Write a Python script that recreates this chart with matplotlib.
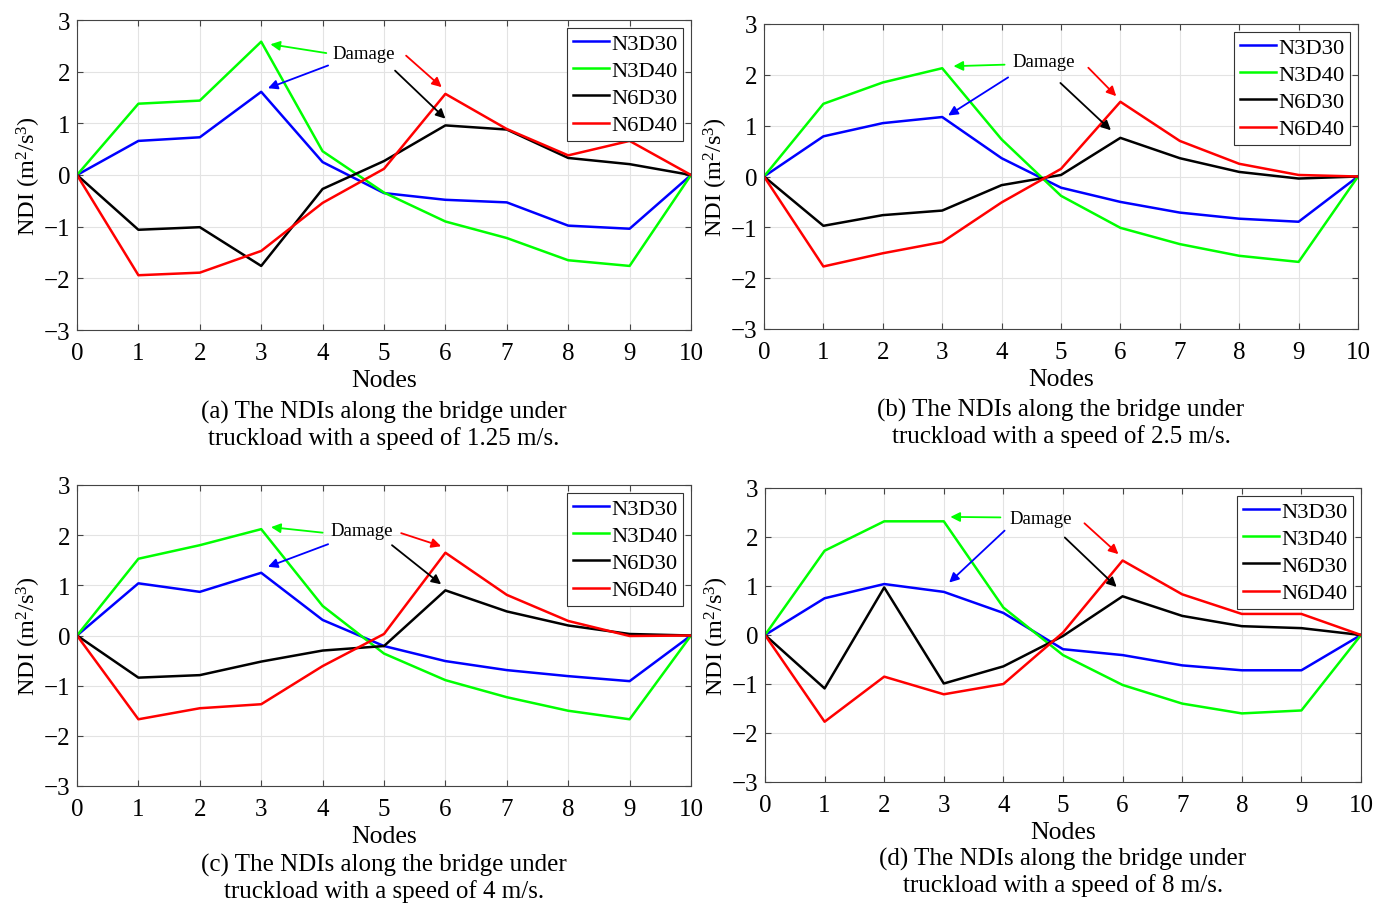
import numpy as np
import matplotlib
matplotlib.use("Agg")
import matplotlib.pyplot as plt

plt.rcParams["font.family"] = ["Liberation Serif", "DejaVu Serif"]
plt.rcParams["mathtext.fontset"] = "custom"
plt.rcParams["mathtext.rm"] = "Liberation Serif"
plt.rcParams["mathtext.it"] = "Liberation Serif:italic"

# Data
nodes = [0, 1, 2, 3, 4, 5, 6, 7, 8, 9, 10]
series_names = ["N3D30", "N3D40", "N6D30", "N6D40"]
series_colors = ["#0000ff", "#00ff00", "#000000", "#ff0000"]

# (a) 1.25 m/s
a_n3d30 = [0, 0.66, 0.73, 1.61, 0.25, -0.35, -0.48, -0.53, -0.98, -1.04, 0]
a_n3d40 = [0, 1.38, 1.44, 2.58, 0.46, -0.34, -0.90, -1.22, -1.65, -1.76, 0]
a_n6d30 = [0, -1.06, -1.01, -1.76, -0.27, 0.27, 0.96, 0.88, 0.33, 0.21, 0]
a_n6d40 = [0, -1.94, -1.89, -1.47, -0.54, 0.12, 1.57, 0.89, 0.38, 0.66, 0]

# (b) 2.5 m/s
b_n3d30 = [0, 0.79, 1.05, 1.17, 0.36, -0.22, -0.50, -0.71, -0.83, -0.89, 0]
b_n3d40 = [0, 1.43, 1.85, 2.13, 0.73, -0.38, -1.01, -1.33, -1.56, -1.68, 0]
b_n6d30 = [0, -0.97, -0.76, -0.67, -0.17, 0.03, 0.76, 0.36, 0.09, -0.04, 0]
b_n6d40 = [0, -1.77, -1.51, -1.29, -0.51, 0.15, 1.47, 0.70, 0.25, 0.03, 0]

# (c) 4 m/s
c_n3d30 = [0, 1.04, 0.87, 1.25, 0.31, -0.21, -0.51, -0.69, -0.81, -0.91, 0]
c_n3d40 = [0, 1.53, 1.80, 2.12, 0.59, -0.36, -0.89, -1.23, -1.50, -1.67, 0]
c_n6d30 = [0, -0.84, -0.79, -0.52, -0.30, -0.21, 0.90, 0.48, 0.20, 0.03, 0]
c_n6d40 = [0, -1.67, -1.45, -1.37, -0.61, 0.03, 1.65, 0.81, 0.29, -0.01, 0]

# (d) 8 m/s
d_n3d30 = [0, 0.75, 1.04, 0.88, 0.45, -0.29, -0.41, -0.62, -0.72, -0.72, 0]
d_n3d40 = [0, 1.72, 2.32, 2.32, 0.56, -0.41, -1.02, -1.40, -1.60, -1.54, 0]
d_n6d30 = [0, -1.09, 0.97, -0.99, -0.64, -0.02, 0.79, 0.39, 0.18, 0.14, 0]
d_n6d40 = [0, -1.77, -0.85, -1.21, -1.00, 0.05, 1.52, 0.83, 0.43, 0.43, 0]

captions = [
    "(a) The NDIs along the bridge under\ntruckload with a speed of 1.25 m/s.",
    "(b) The NDIs along the bridge under\ntruckload with a speed of 2.5 m/s.",
    "(c) The NDIs along the bridge under\ntruckload with a speed of 4 m/s.",
    "(d) The NDIs along the bridge under\ntruckload with a speed of 8 m/s.",
]

# "Damage" label position and arrows (tail x, tail y, head x, head y) per panel
damage_text = [(4.67, 2.36), (4.71, 2.27), (4.64, 2.10), (4.62, 2.37)]
arrow_colors = ["#00ff00", "#0000ff", "#000000", "#ff0000"]
damage_arrows = [
    [(4.06, 2.36, 3.15, 2.53), (4.09, 2.12, 3.11, 1.68), (5.18, 2.02, 6.0, 1.09), (5.36, 2.31, 5.94, 1.70)],
    [(4.05, 2.20, 3.19, 2.17), (4.11, 1.95, 3.10, 1.20), (4.99, 1.84, 5.84, 0.91), (5.46, 2.14, 5.93, 1.58)],
    [(4.00, 2.05, 3.16, 2.16), (4.09, 1.82, 3.11, 1.37), (5.13, 1.80, 5.93, 1.02), (5.28, 2.04, 5.93, 1.78)],
    [(3.95, 2.40, 3.11, 2.41), (4.02, 2.13, 3.09, 1.07), (5.03, 1.99, 5.90, 0.98), (5.36, 2.28, 5.93, 1.65)],
]

panels = [
    [a_n3d30, a_n3d40, a_n6d30, a_n6d40],
    [b_n3d30, b_n3d40, b_n6d30, b_n6d40],
    [c_n3d30, c_n3d40, c_n6d30, c_n6d40],
    [d_n3d30, d_n3d40, d_n6d30, d_n6d40],
]

W, H = 1383, 904
fig = plt.figure(figsize=(W / 100, H / 100), dpi=100)

# axes boxes in pixels: left, top, right, bottom
boxes = [(77, 21, 691, 331), (764, 25, 1358, 330), (77, 486, 691, 787), (765, 489, 1361, 783)]

for i, (l, t, r, b) in enumerate(boxes):
    ax = fig.add_axes([l / W, 1 - b / H, (r - l) / W, (b - t) / H])
    for vals, name, col in zip(panels[i], series_names, series_colors):
        ax.plot(nodes, vals, color=col, lw=1.8, label=name)
    ax.set_xlim(0, 10)
    ax.set_ylim(-3, 3)
    ax.set_xticks(range(0, 11))
    ax.set_yticks(range(-3, 4))
    ax.grid(True, color="#e3e3e3", lw=0.8)
    ax.set_axisbelow(True)
    ax.tick_params(direction="in", top=True, right=True, labelsize=18, length=4,
                   color="#444444")
    ax.tick_params(axis="x", pad=9)
    ax.tick_params(axis="y", pad=5)
    for s in ax.spines.values():
        s.set_color("#444444")
        s.set_linewidth(0.8)
    ax.set_xlabel("Nodes", fontsize=18.5, labelpad=3)
    ax.set_ylabel("NDI (m$^2$/s$^3$)", fontsize=17.5, labelpad=0)

    leg = ax.legend(loc="upper right", fontsize=16.2, handlelength=1.6, handletextpad=0.1,
                    borderpad=0.25, labelspacing=0.28, fancybox=False,
                    borderaxespad=0.35, framealpha=1)
    leg.get_frame().set_edgecolor("#333333")
    leg.get_frame().set_linewidth(0.8)

    tx, ty = damage_text[i]
    ax.text(tx, ty, "Damage", fontsize=13.5, ha="center", va="center")
    for (x0, y0, x1, y1), col in zip(damage_arrows[i], arrow_colors):
        ax.annotate("", xy=(x1, y1), xytext=(x0, y0),
                    arrowprops=dict(arrowstyle="-|>", color=col, lw=1.3,
                                    mutation_scale=14, shrinkA=0, shrinkB=0))

    ax.text(0.5, -0.305, captions[i], transform=ax.transAxes, fontsize=18,
            ha="center", va="center", linespacing=1.17)

fig.savefig("out.png", dpi=100)
